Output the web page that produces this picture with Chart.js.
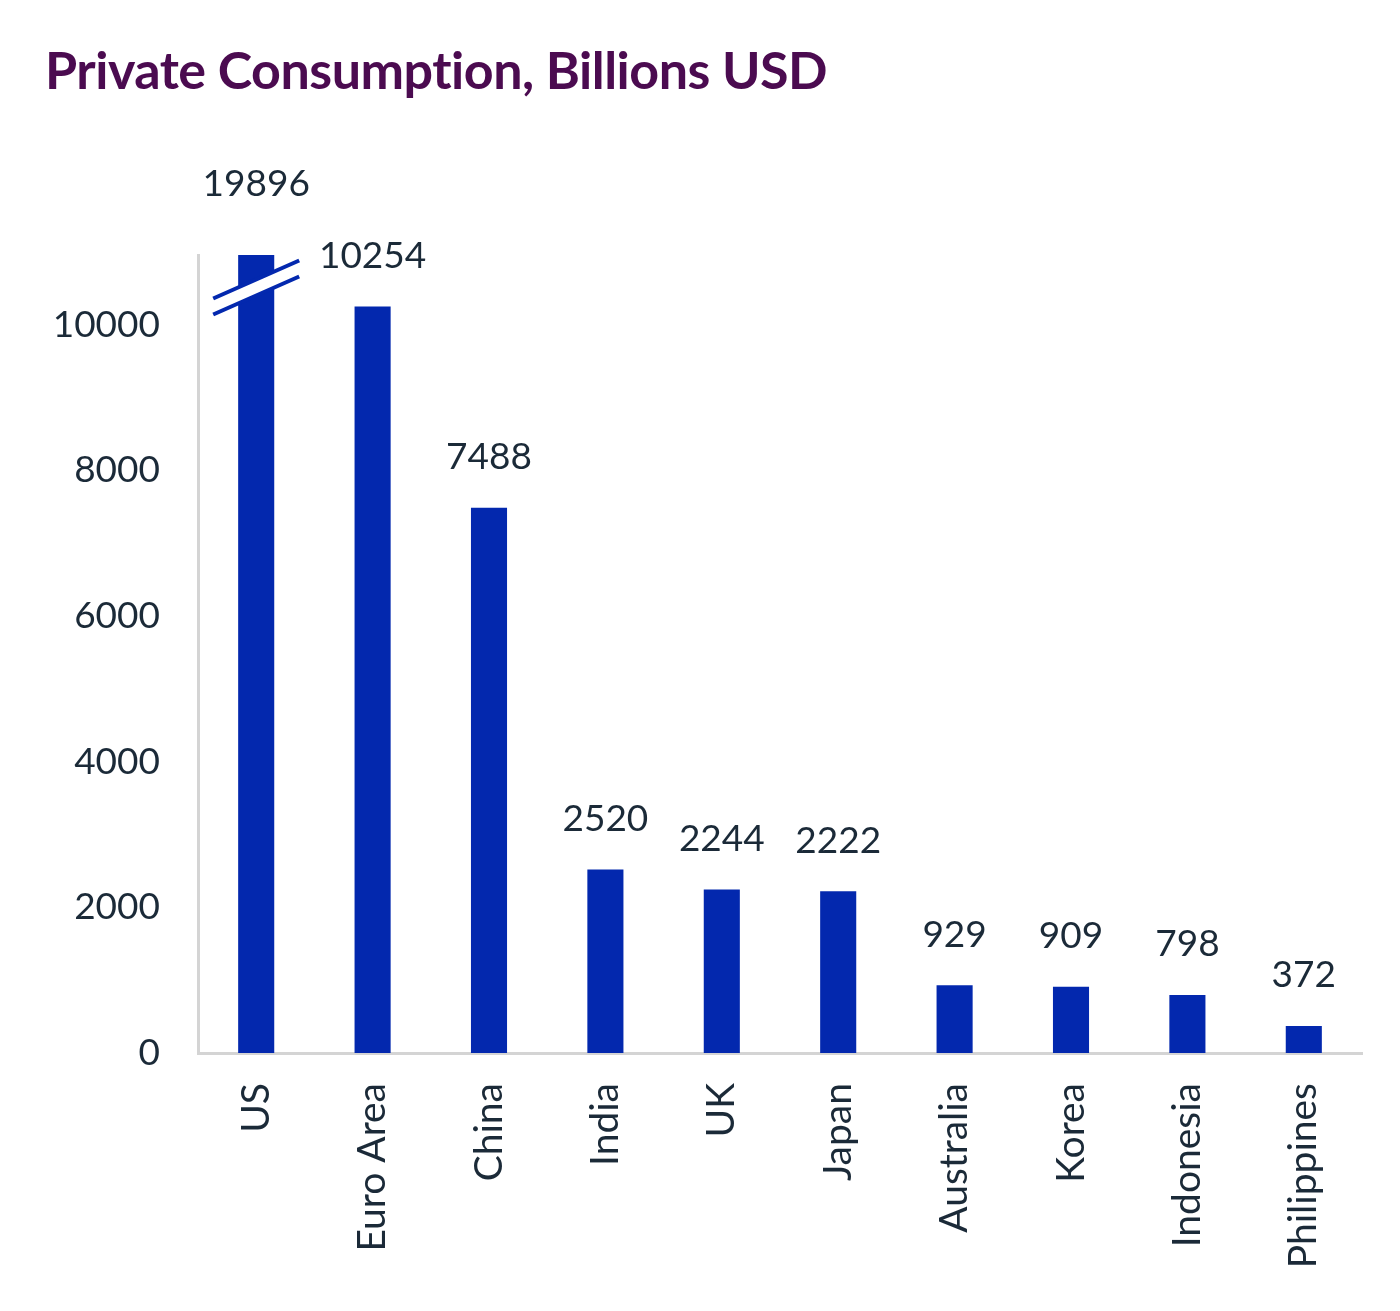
<!DOCTYPE html>
<html>
<head>
<meta charset="utf-8">
<script src="https://cdn.jsdelivr.net/npm/chart.js@4"></script>
<style>
  body { margin: 0; background: #fff; }
  #wrap { position: relative; width: 1400px; height: 1311px; }
  h1 { position: absolute; left: 45px; top: 38px; margin: 0; font: bold 52px Lato, sans-serif; color: #4b0b50; letter-spacing: -0.5px; }
</style>
</head>
<body>
<div id="wrap">
  <h1>Private Consumption, Billions USD</h1>
  <canvas id="chart" width="1400" height="1311"></canvas>
</div>
<script>
const categories = ["US", "Euro Area", "China", "India", "UK", "Japan", "Australia", "Korea", "Indonesia", "Philippines"];
const values = [19896, 10254, 7488, 2520, 2244, 2222, 929, 909, 798, 372];
const yTicks = [0, 2000, 4000, 6000, 8000, 10000];
const axisMax = 10960;
const barColor = "#0328ae";
const textColor = "#1b2a38";

// value labels above bars, plus the axis break on the US bar
const labelsPlugin = {
    id: "labels",
    afterDatasetsDraw(chart) {
        const ctx = chart.ctx;
        const meta = chart.getDatasetMeta(0);
        const y = chart.scales.y;
        ctx.save();
        ctx.font = "37px Lato, sans-serif";
        ctx.fillStyle = textColor;
        ctx.textAlign = "center";
        ctx.textBaseline = "bottom";
        meta.data.forEach((bar, i) => {
            const top = y.getPixelForValue(Math.min(values[i], axisMax));
            const off = values[i] > axisMax ? 52 : 32;
            ctx.fillText(values[i], bar.x, top - off);
        });
        // break marks
        const bx = meta.data[0].x;
        const by = y.getPixelForValue(10500);
        ctx.lineWidth = 4;
        ctx.fillStyle = "#fff";
        ctx.beginPath();
        ctx.moveTo(bx - 43, by + 10);
        ctx.lineTo(bx + 43, by - 28);
        ctx.lineTo(bx + 43, by - 12);
        ctx.lineTo(bx - 43, by + 26);
        ctx.closePath();
        ctx.fill();
        ctx.strokeStyle = barColor;
        ctx.beginPath();
        ctx.moveTo(bx - 43, by + 10);
        ctx.lineTo(bx + 43, by - 28);
        ctx.moveTo(bx - 43, by + 26);
        ctx.lineTo(bx + 43, by - 12);
        ctx.stroke();
        ctx.restore();
    }
};

new Chart(document.getElementById("chart").getContext("2d"), {
    type: "bar",
    data: {
        labels: categories,
        datasets: [{
            data: values,
            backgroundColor: barColor,
            barPercentage: 0.62,
            categoryPercentage: 0.5
        }]
    },
    options: {
        responsive: false,
        animation: false,
        layout: { padding: { top: 255, right: 38, left: 0, bottom: 0 } },
        plugins: { legend: { display: false }, tooltip: { enabled: false } },
        scales: {
            y: {
                min: 0,
                max: axisMax,
                afterBuildTicks: (s) => { s.ticks = yTicks.map(v => ({ value: v })); },
                afterFit: (s) => { s.width = 198; },
                grid: { display: false, drawTicks: false },
                border: { color: "#d4d4d4", width: 3 },
                ticks: { color: textColor, font: { size: 37, family: "Lato, sans-serif" }, padding: 38, callback: (v) => String(v) }
            },
            x: {
                afterFit: (s) => { s.height = 258; },
                grid: { display: false, drawTicks: false },
                border: { color: "#d4d4d4", width: 3 },
                ticks: { color: textColor, font: { size: 39, family: "Lato, sans-serif" }, maxRotation: 90, minRotation: 90, padding: 30 }
            }
        }
    },
    plugins: [labelsPlugin]
});
</script>
</body>
</html>
